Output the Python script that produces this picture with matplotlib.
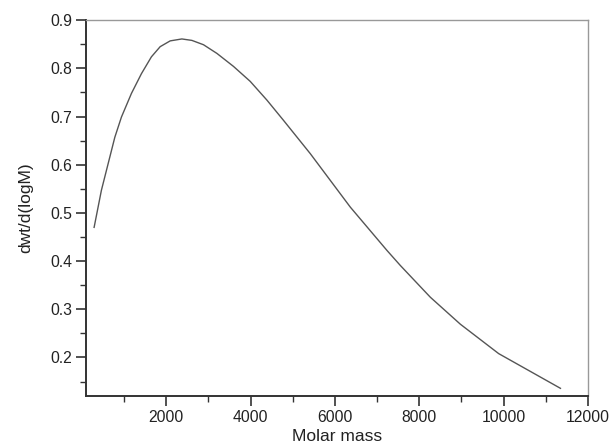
import matplotlib
matplotlib.use("Agg")
import matplotlib.pyplot as plt
from matplotlib.ticker import MultipleLocator

plt.rcParams['font.family'] = ['Liberation Sans', 'DejaVu Sans']

# values
molar_mass = [292, 465, 624, 783, 940, 1177, 1414, 1651, 1858, 2095, 2372,
              2610, 2885, 3203, 3596, 3992, 4389, 4782, 5416, 6365, 7235,
              7550, 8262, 8974, 9882, 11346]
dwt_dlogm = [0.470, 0.547, 0.602, 0.657, 0.699, 0.748, 0.789, 0.824, 0.845,
             0.857, 0.861, 0.858, 0.849, 0.831, 0.804, 0.773, 0.734, 0.692,
             0.623, 0.512, 0.422, 0.391, 0.325, 0.269, 0.208, 0.136]

fig = plt.figure(figsize=(6.1, 4.48), dpi=100)
ax = fig.add_axes([0.141, 0.116, 0.823, 0.839])

ax.plot(molar_mass, dwt_dlogm, color='#555555', linewidth=1.0)

ax.set_xlim(100, 12000)
ax.set_ylim(0.12, 0.9)
ax.xaxis.set_major_locator(MultipleLocator(2000))
ax.xaxis.set_minor_locator(MultipleLocator(1000))
ax.yaxis.set_major_locator(MultipleLocator(0.1))
ax.yaxis.set_minor_locator(MultipleLocator(0.05))
ax.set_xticks([2000, 4000, 6000, 8000, 10000, 12000])

for side in ['left', 'bottom']:
    ax.spines[side].set_linewidth(1.4)
    ax.spines[side].set_color('#333333')
for side in ['top', 'right']:
    ax.spines[side].set_linewidth(1.0)
    ax.spines[side].set_color('#999999')

ax.tick_params(which='major', direction='out', length=7, width=1.2,
               color='#333333', labelsize=11.3, labelcolor='#222222', pad=3)
ax.tick_params(which='minor', direction='out', length=4, width=1.0,
               color='#333333')

ax.set_xlabel('Molar mass', fontsize=12.5, color='#222222', labelpad=3)
ax.set_ylabel('dwt/d(logM)', fontsize=12.5, color='#222222', labelpad=12)

fig.savefig('out.png', dpi=100)
